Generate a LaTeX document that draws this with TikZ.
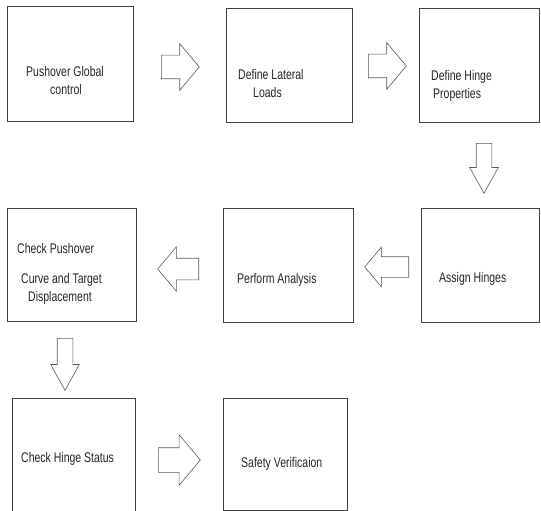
\documentclass[tikz,border=0pt]{standalone}
\usepackage{fontspec}
\setmainfont{Liberation Sans}[FakeStretch=0.75]
\usetikzlibrary{shapes.arrows}

\begin{document}
\begin{tikzpicture}[x=1pt, y=1pt,
        box/.style={draw=black!75, line width=0.8pt, inner sep=0pt, anchor=north west},
        txt/.style={inner sep=0pt, anchor=base west, font=\fontsize{14}{16}\selectfont, text=black!85},
        fat/.style={single arrow, draw=black!65, line width=0.6pt, inner xsep=0pt,
            single arrow head indent=0pt, anchor=tail},
        across/.style={fat, minimum height=38pt, inner ysep=11.5pt,
            single arrow head extend=11.5pt, single arrow tip angle=100},
        down/.style={fat, rotate=-90, minimum height=50pt, inner ysep=7.5pt,
            single arrow head extend=6.5pt, single arrow tip angle=58}]
    \useasboundingbox (0,0) rectangle (541,-511);
    % boxes
    \node[box, minimum width=126pt, minimum height=115pt] (glob) at (7,-6) {};
    \node[box, minimum width=126pt, minimum height=114pt] (lat) at (226,-8) {};
    \node[box, minimum width=120pt, minimum height=114pt] (prop) at (419,-8) {};
    \node[box, minimum width=118pt, minimum height=114pt] (assign) at (421,-208) {};
    \node[box, minimum width=130pt, minimum height=114pt] (perf) at (223,-208) {};
    \node[box, minimum width=129pt, minimum height=113pt] (curve) at (7,-208) {};
    \node[box, minimum width=123pt, minimum height=120pt] (status) at (12,-398) {};
    \node[box, minimum width=124pt, minimum height=112pt] (safe) at (223,-398) {};
    % texts
    \node[txt] (globa) at (26,-77) {Pushover Global};
    \node[txt] (globb) at (50,-95) {control};
    \node[txt] (lata) at (238,-80) {Define Lateral};
    \node[txt] (latb) at (253,-98) {Loads};
    \node[txt] (propa) at (431,-81) {Define Hinge};
    \node[txt] (propb) at (433,-99) {Properties};
    \node[txt] (curvea) at (17,-253) {Check Pushover};
    \node[txt] (curveb) at (21,-283) {Curve and Target};
    \node[txt] (curvec) at (28,-301) {Displacement};
    \node[txt] (perfa) at (237,-283) {Perform Analysis};
    \node[txt] (assigna) at (439,-282) {Assign Hinges};
    \node[txt] (statusa) at (21,-462) {Check Hinge Status};
    \node[txt] (safea) at (241,-467) {Safety Verificaion};
    % block arrows
    \node[across] (globlat) at (161,-67) {};
    \node[across] (latprop) at (368,-66) {};
    \node[down] (propassign) at (484,-143) {};
    \node[across, rotate=180, minimum height=44pt, inner ysep=10pt,
        single arrow head extend=9.5pt] (assignperf) at (409,-267) {};
    \node[across, rotate=180, minimum height=41pt, inner ysep=10.5pt,
        single arrow head extend=11.5pt] (perfcurve) at (199,-269) {};
    \node[down, minimum height=52pt] (curvestatus) at (65,-338) {};
    \node[across, minimum height=42pt, inner ysep=12pt,
        single arrow head extend=13pt] (statussafe) at (158,-460) {};
\end{tikzpicture}
\end{document}
